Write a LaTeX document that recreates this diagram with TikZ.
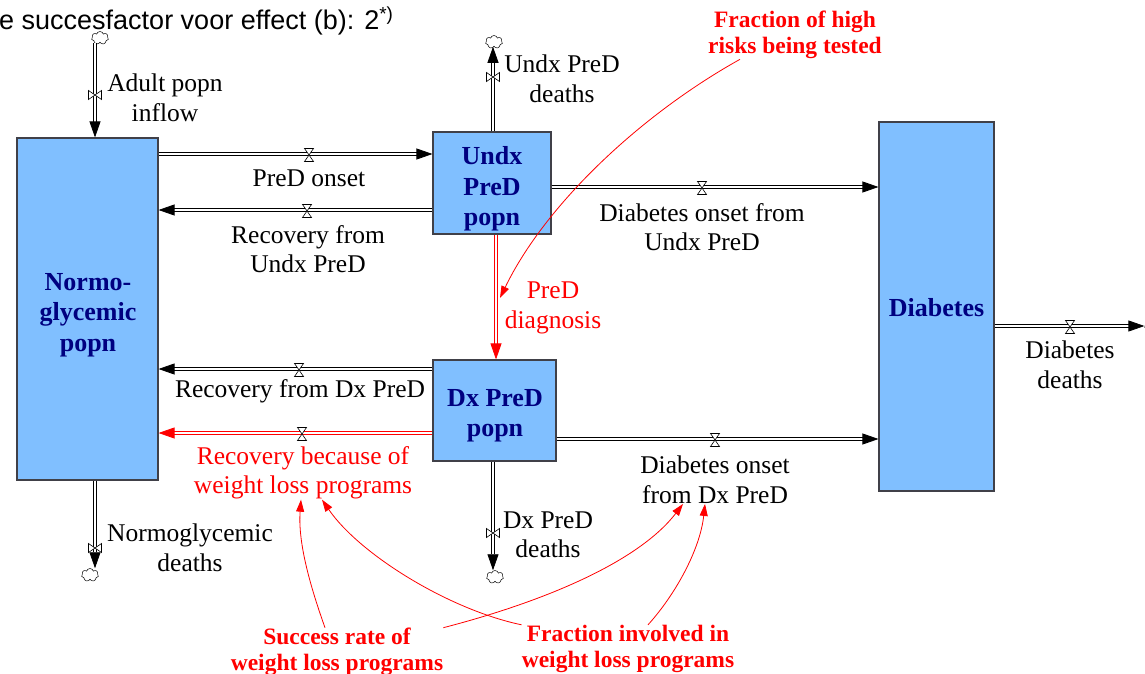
\documentclass[tikz,border=0pt]{standalone}
\usepackage{fontspec}
\setmainfont{Liberation Serif}
\newfontfamily\headfont{Liberation Sans}
\usetikzlibrary{arrows.meta,shapes.symbols}

\definecolor{stockfill}{RGB}{128,191,255}
\definecolor{stockline}{RGB}{64,64,72}
\definecolor{stocktext}{RGB}{0,0,128}
\definecolor{auxred}{RGB}{255,0,0}

\tikzset{
  stock/.style={draw=stockline, fill=stockfill, line width=1.1pt, inner sep=0pt},
  stocklbl/.style={align=center, inner sep=0pt, text=stocktext,
    font=\fontsize{26}{30.5}\selectfont\bfseries},
  lbl/.style={align=center, inner sep=0pt, font=\fontsize{25.5}{29.5}\selectfont},
  redlbl/.style={lbl, text=auxred},
  auxlbl/.style={align=center, inner sep=0pt, text=auxred,
    font=\fontsize{23.5}{26.5}\selectfont\bfseries},
  pipe/.style={draw=black, line width=0.8pt, double=white, double distance=2.6pt,
    -{Triangle[length=16pt,width=11pt]}},
  redpipe/.style={pipe, draw=auxred},
  link/.style={draw=auxred, line width=0.8pt, -{Triangle[length=12pt,width=8pt]}},
  source/.style={cloud, cloud puffs=7, cloud ignores aspect, draw=black,
    line width=0.5pt, fill=white, minimum width=17pt, minimum height=13pt,
    inner sep=0pt},
  valveh/.pic={\draw[line width=0.6pt, fill=white]
    (-4.5,-6.5) -- (4.5,-6.5) -- (-4.5,6.5) -- (4.5,6.5) -- cycle;},
  valvev/.pic={\draw[line width=0.6pt, fill=white]
    (-6.5,-4.5) -- (-6.5,4.5) -- (6.5,-4.5) -- (6.5,4.5) -- cycle;},
}

\begin{document}
\begin{tikzpicture}[x=1pt, y=-1pt]
\useasboundingbox (0,0) rectangle (1145,674);

% heading
\node[anchor=base west, inner sep=0pt, font=\headfont\fontsize{27}{30}\selectfont]
  (heading) at (-1,30) {e succesfactor voor effect (b): 2\textsuperscript{*)}};

% stocks
\node[stock, minimum width=141pt, minimum height=342pt] (normo) at (87.5,309) {};
\node[stock, minimum width=118pt, minimum height=102pt] (undx) at (492,183) {};
\node[stock, minimum width=123pt, minimum height=101pt] (dx) at (494.5,410.5) {};
\node[stock, minimum width=115pt, minimum height=369pt] (diab) at (936.5,306.5) {};
\node[stocklbl] (normolbl) at (88,315)  {Normo-\\glycemic\\popn};
\node[stocklbl] (undxlbl)  at (492,189) {Undx\\PreD\\popn};
\node[stocklbl] (dxlbl)    at (495,416) {Dx PreD\\popn};
\node[stocklbl] (diablbl)  at (936.5,307.5) {Diabetes};

% sources and sinks
\node[source] (srcin)  at (100,38)  {};
\node[source] (sinkud) at (494,42)  {};
\node[source] (sinkn)  at (90,575)  {};
\node[source] (sinkdx) at (495,577) {};
\node[source] (sinkd)  at (1153,326) {};

% flows
\draw[pipe] (srcin.south -| 95,0) -- (normo.north -| 95,0);
\pic at (95,95) {valvev};
\draw[pipe] (undx.north -| 493,0) -- (sinkud.south -| 493,0);
\pic at (493,77) {valvev};
\draw[pipe] (normo.east |- 0,154) -- (undx.west |- 0,154);
\pic at (309,155) {valveh};
\draw[pipe] (undx.west |- 0,210) -- (normo.east |- 0,210);
\pic at (307,211) {valveh};
\draw[pipe] (undx.east |- 0,187) -- (diab.west |- 0,187);
\pic at (702,188) {valveh};
\draw[redpipe] (undx.south -| 496,0) -- (dx.north -| 496,0);
\draw[pipe] (dx.west |- 0,369) -- (normo.east |- 0,369);
\pic at (299,370) {valveh};
\draw[redpipe] (dx.west |- 0,433) -- (normo.east |- 0,433);
\pic at (302,434) {valveh};
\draw[pipe] (dx.east |- 0,439) -- (diab.west |- 0,439);
\pic at (715,440) {valveh};
\draw[pipe] (normo.south -| 95,0) -- (sinkn.north -| 95,0);
\pic at (95,548) {valvev};
\draw[pipe] (dx.south -| 493,0) -- (sinkdx.north -| 493,0);
\pic at (493,533) {valvev};
\draw[pipe] (diab.east |- 0,326) -- (sinkd.west |- 0,326);
\pic at (1070,327) {valveh};

% flow labels
\node[lbl] (lin)   at (165,98)  {Adult popn\\inflow};
\node[lbl] (lud)   at (562,79)  {Undx PreD\\deaths};
\node[lbl] (lon)   at (309,178) {PreD onset};
\node[lbl] (lrun)  at (308,249) {Recovery from\\Undx PreD};
\node[lbl] (ldun)  at (702,227) {Diabetes onset from\\Undx PreD};
\node[redlbl] (ldiag) at (553,308) {PreD\\diagnosis};
\node[lbl] (lrdx)  at (300,391) {Recovery from Dx PreD};
\node[redlbl] (lrw) at (303,473) {Recovery because of\\weight loss programs};
\node[lbl] (lddx)  at (715,480) {Diabetes onset\\from Dx PreD};
\node[lbl] (lnd)   at (190,548) {Normoglycemic\\deaths};
\node[lbl] (ldxd)  at (548,535) {Dx PreD\\deaths};
\node[lbl] (ldd)   at (1070,365) {Diabetes\\deaths};

% auxiliary variables
\node[auxlbl] (fhigh) at (795,35)  {Fraction of high\\risks being tested};
\node[auxlbl] (succ)  at (337,652) {Success rate of\\weight loss programs};
\node[auxlbl] (finv)  at (628,649) {Fraction involved in\\weight loss programs};

% influence links
\coordinate (diagin) at (500,298);
\draw[link] (fhigh.south -| 740,0) .. controls (640,115) and (545,205) .. (diagin);
\draw[link] (succ.north -| 325,0) .. controls (308,580) and (298,540) .. (lrw.south -| 301,0);
\draw[link] (succ.north east) .. controls (550,600) and (640,560) .. (lddx.south -| 683,0);
\draw[link] (finv.north west) .. controls (450,610) and (360,555) .. (lrw.south -| 322,0);
\draw[link] (finv.north -| 648,0) .. controls (675,595) and (700,550) .. (lddx.south -| 705,0);
\end{tikzpicture}
\end{document}
